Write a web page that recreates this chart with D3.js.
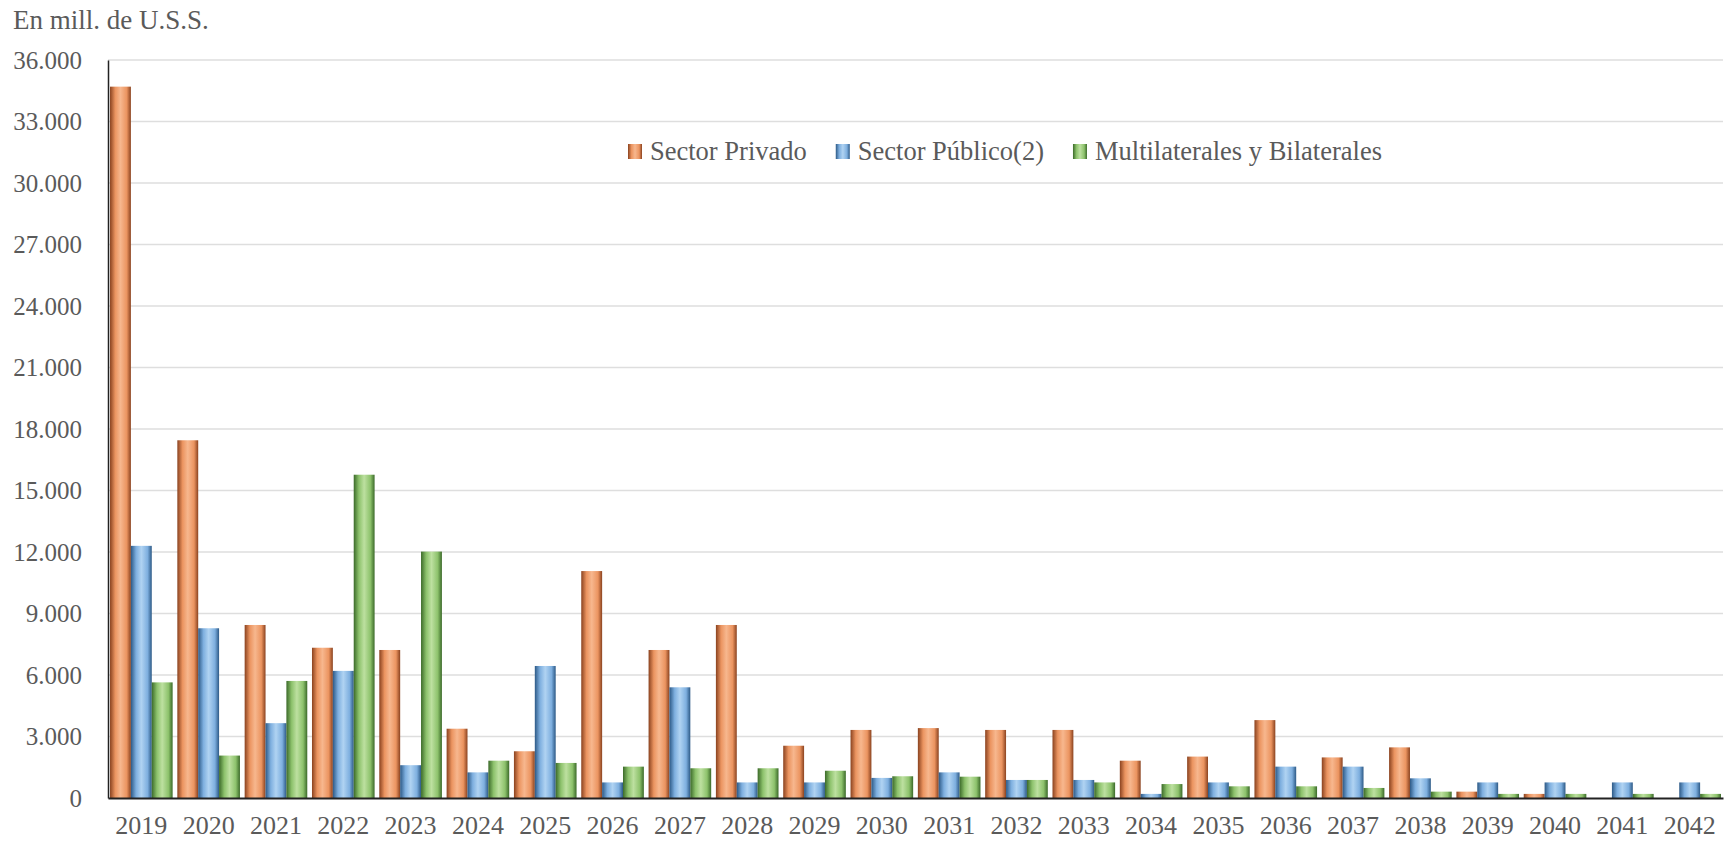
<!DOCTYPE html>
<html>
<head>
<meta charset="utf-8">
<style>
  body { margin: 0; background: #fff; }
  svg { display: block; }
  text { font-family: "Liberation Serif", "DejaVu Serif", serif; fill: #5a5a5a; }
</style>
<script src="https://d3js.org/d3.v7.min.js"></script>
</head>
<body>
<svg id="chart"></svg>
<script>
// data, in millions of US$
var years = ["2019","2020","2021","2022","2023","2024","2025","2026","2027","2028","2029","2030",
             "2031","2032","2033","2034","2035","2036","2037","2038","2039","2040","2041","2042"]
var privado = [34700,17450,8440,7330,7220,3380,2280,11070,7220,8440,2550,3320,
               3410,3320,3320,1820,2020,3800,1980,2470,310,200,0,0]
var publico = [12300,8280,3650,6200,1600,1250,6440,760,5400,760,760,980,
               1250,880,880,200,760,1530,1530,960,760,760,760,760]
var multi = [5640,2070,5710,15770,12020,1820,1710,1530,1450,1450,1330,1060,
             1040,880,760,680,570,570,490,310,200,200,200,200]
var seriesNames = ["Sector Privado", "Sector Público(2)", "Multilaterales y Bilaterales"]
var yTicks = [0,3000,6000,9000,12000,15000,18000,21000,24000,27000,30000,33000,36000]

var w = 1731, h = 846
var padLeft = 108, padRight = 1723, padTop = 60, padBottom = 798

var svg = d3.select("#chart").attr("width", w).attr("height", h)

// bar gradients (cylinder look)
var shades = [
  {id: "gPriv", edge: "#8a421f", light: "#f7b78e", mid: "#eb9460"},
  {id: "gPub", edge: "#2c5986", light: "#b0d3f2", mid: "#7eafdf"},
  {id: "gMul", edge: "#3b6a29", light: "#bde0a0", mid: "#8dc26c"}
]
var defs = svg.append("defs")
shades.forEach(function(s) {
  var g = defs.append("linearGradient").attr("id", s.id)
    .attr("x1", "0%").attr("x2", "100%").attr("y1", "0%").attr("y2", "0%")
  g.append("stop").attr("offset", "0%").attr("stop-color", s.edge)
  g.append("stop").attr("offset", "25%").attr("stop-color", s.mid)
  g.append("stop").attr("offset", "50%").attr("stop-color", s.light)
  g.append("stop").attr("offset", "80%").attr("stop-color", s.mid)
  g.append("stop").attr("offset", "100%").attr("stop-color", s.edge)
})

var x = d3.scaleBand().domain(years).range([padLeft, padRight]).paddingInner(0.07).paddingOuter(0.03)
var xSub = d3.scaleBand().domain([0, 1, 2]).range([0, x.bandwidth()])
var y = d3.scaleLinear().domain([0, 36000]).range([padBottom, padTop])

// gridlines
svg.append("g").selectAll("line")
  .data(yTicks.slice(1))
  .enter().append("line")
  .attr("x1", padLeft).attr("x2", padRight)
  .attr("y1", function(d) { return y(d) }).attr("y2", function(d) { return y(d) })
  .attr("stroke", "#dedede").attr("stroke-width", 1.5)

// y axis
var yAxis = d3.axisLeft(y).tickValues(yTicks).tickSize(0).tickPadding(26)
  .tickFormat(function(d) { return d3.format(",")(d).replace(/,/g, ".") })
var ga = svg.append("g").attr("transform", "translate(" + padLeft + ",0)").call(yAxis)
ga.select(".domain").attr("stroke", "#222").attr("stroke-width", 1.5)
ga.selectAll("text").style("font-size", "25px").attr("fill", "#5a5a5a")
  .style("font-family", "'Liberation Serif', serif")

// bars
var all = [privado, publico, multi]
var fills = ["url(#gPriv)", "url(#gPub)", "url(#gMul)"]
all.forEach(function(arr, s) {
  svg.append("g").selectAll("rect")
    .data(arr)
    .enter().append("rect")
    .attr("x", function(d, i) { return x(years[i]) + xSub(s) })
    .attr("width", xSub.bandwidth())
    .attr("y", function(d) { return y(d) })
    .attr("height", function(d) { return padBottom - y(d) })
    .attr("fill", fills[s])
})

// x axis
var xAxis = d3.axisBottom(x).tickSize(0).tickPadding(18)
var gx = svg.append("g").attr("transform", "translate(0," + padBottom + ")").call(xAxis)
gx.select(".domain").attr("stroke", "#222").attr("stroke-width", 2)
gx.selectAll("text").style("font-size", "26px").attr("fill", "#5a5a5a")
  .style("font-family", "'Liberation Serif', serif")

// unit label
svg.append("text").attr("x", 13).attr("y", 29).style("font-size", "27px").text("En mill. de U.S.S.")

// legend
var lx = 628
var leg = svg.append("g")
seriesNames.forEach(function(name, i) {
  leg.append("rect").attr("x", lx).attr("y", 144).attr("width", 14).attr("height", 15).attr("fill", fills[i])
  var t = leg.append("text").attr("x", lx + 22).attr("y", 160).style("font-size", "26.5px").text(name)
  lx += 22 + t.node().getComputedTextLength() + 29
})
</script>
</body>
</html>
